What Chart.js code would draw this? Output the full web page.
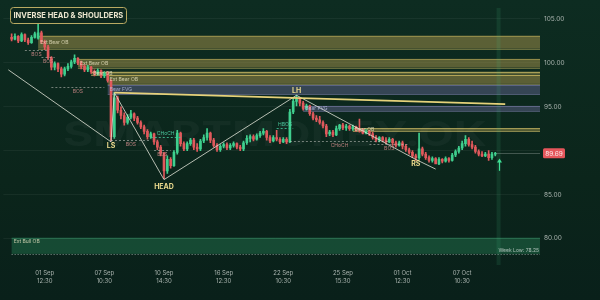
<!DOCTYPE html>
<html>
<head>
<meta charset="utf-8">
<script src="https://cdn.jsdelivr.net/npm/chart.js@4.4.0/dist/chart.umd.min.js"></script>
<style>
  html, body { margin: 0; padding: 0; }
  body { width: 600px; height: 300px; overflow: hidden;
         background: linear-gradient(180deg, #0d2c21 0%, #0b251b 60%, #09201a 100%); }
  canvas { display: block; }
</style>
</head>
<body>
<canvas id="chart" width="600" height="300"></canvas>
<script>
//====================================
// DATA
// candle slots: 0..148 hold candles, 149..161 are empty room on the right
const slotCount = 162;

const opens = [
  null, null, 102.9, 102.7, 103.0, 102.5, 103.2, 102.6, 102.3, 102.9,
  102.8, 103.4, 102.4, 101.8, 100.6, 99.5, 99.9, 99.3, 98.7, 99.3,
  99.6, 100.1, 100.5, 100.0, 99.6, 99.2, 99.5, 99.0, 98.8, 99.1,
  98.5, 98.8, 98.0, 91.6, 96.0, 94.6, 94.0, 93.2, 93.8, 94.2,
  93.7, 93.2, 92.7, 92.2, 91.6, 91.9, 91.0, 90.4, 89.7, 87.7,
  89.0, 88.3, 89.8, 92.0, 90.8, 90.2, 90.8, 91.2, 90.4, 90.2,
  91.1, 91.5, 92.0, 91.2, 90.6, 90.1, 90.5, 90.7, 90.3, 90.6,
  90.8, 90.4, 90.2, 90.9, 91.4, 91.6, 91.3, 91.7, 92.0, 92.2,
  91.5, 91.1, 91.5, 91.3, 91.0, 91.3, 91.0, 94.4, 95.6, 95.9,
  95.4, 94.8, 95.1, 94.2, 93.7, 93.5, 93.2, 92.8, 91.9, 92.1,
  91.8, 92.5, 92.9, 92.6, 92.8, 92.5, 92.7, 92.4, 92.3, 92.0,
  92.2, 91.9, 91.5, 91.2, 91.5, 91.2, 91.0, 91.3, 90.9, 90.6,
  90.9, 90.5, 90.1, 89.8, 89.4, 89.2, 90.2, 89.6, 89.2, 88.9,
  89.1, 88.5, 89.0, 88.8, 89.1, 88.9, 89.5, 89.9, 90.3, 90.8,
  91.3, 90.7, 90.4, 89.9, 89.6, 89.4, 89.6, 89.2, 89.6
];
const highs = [
  null, null, 103.3, 103.3, 103.1, 103.4, 103.3, 102.8, 103.1, 103.5,
  104.4, 103.6, 102.6, 102.0, 100.7, 100.1, 100.0, 99.5, 99.5, 99.9,
  100.3, 100.9, 100.6, 100.2, 99.8, 99.7, 99.6, 99.2, 99.3, 99.2,
  99.0, 99.0, 98.1, 96.6, 96.2, 95.0, 94.3, 94.1, 94.6, 94.3,
  93.9, 93.4, 92.9, 92.4, 92.1, 92.0, 91.2, 90.6, 89.8, 89.4,
  89.2, 90.0, 92.3, 92.1, 91.0, 91.0, 91.4, 91.4, 90.8, 91.3,
  91.8, 92.5, 92.1, 91.4, 90.8, 90.7, 90.9, 90.9, 90.8, 91.0,
  90.9, 90.6, 91.1, 91.7, 91.8, 91.8, 91.9, 92.2, 92.5, 92.3,
  91.7, 91.7, 92.3, 91.5, 91.5, 91.5, 94.7, 96.0, 96.3, 96.0,
  95.6, 95.3, 95.2, 94.4, 94.0, 93.9, 93.4, 93.0, 92.3, 92.3,
  92.8, 93.0, 93.1, 93.0, 92.9, 92.9, 92.8, 93.6, 92.5, 92.4,
  92.3, 92.1, 91.7, 91.6, 91.6, 91.5, 91.5, 91.4, 91.1, 91.1,
  91.1, 90.7, 90.3, 90.0, 89.6, 92.0, 90.4, 89.8, 89.4, 89.3,
  89.2, 89.2, 89.1, 89.3, 89.2, 89.7, 90.1, 90.5, 91.1, 91.7,
  91.5, 91.1, 90.6, 90.1, 89.9, 89.8, 90.0, 89.8, 89.8
];
const lows = [
  null, null, 102.5, 102.6, 102.3, 102.4, 102.4, 102.1, 102.2, 102.8,
  102.7, 102.2, 101.5, 100.4, 99.2, 99.2, 99.0, 98.4, 98.5, 99.1,
  99.4, 99.9, 99.8, 99.3, 99.0, 99.0, 98.8, 98.5, 98.6, 98.3,
  98.3, 97.8, 91.1, 91.4, 94.3, 93.6, 92.9, 93.0, 93.6, 93.4,
  93.0, 92.5, 91.9, 91.3, 91.4, 90.7, 90.1, 89.4, 86.8, 87.4,
  88.0, 88.2, 89.6, 90.5, 90.0, 90.0, 90.6, 90.1, 89.9, 90.0,
  90.9, 91.2, 90.9, 90.4, 89.9, 89.9, 90.3, 90.1, 90.1, 90.4,
  90.2, 90.0, 90.0, 90.7, 91.0, 91.1, 91.2, 91.5, 91.8, 91.2,
  90.9, 91.0, 91.1, 90.8, 90.9, 90.8, 90.9, 94.2, 95.1, 95.1,
  94.6, 94.6, 94.0, 93.5, 93.3, 93.0, 92.6, 91.6, 91.7, 91.6,
  91.7, 92.3, 92.4, 92.3, 92.3, 92.3, 92.2, 92.1, 91.9, 91.9,
  91.7, 91.3, 91.0, 91.0, 91.0, 90.8, 90.9, 90.6, 90.4, 90.5,
  90.2, 89.9, 89.6, 89.2, 88.9, 89.0, 89.4, 89.0, 88.7, 88.7,
  88.6, 88.4, 88.6, 88.7, 88.7, 88.8, 89.3, 89.7, 90.1, 90.5,
  90.5, 90.2, 89.7, 89.4, 89.3, 89.3, 88.9, 89.0, 89.4
];
const closes = [
  null, null, 102.7, 103.0, 102.5, 103.2, 102.6, 102.3, 102.9, 103.3,
  103.4, 102.4, 101.8, 100.6, 99.5, 99.9, 99.3, 98.7, 99.3, 99.6,
  100.1, 100.5, 100.0, 99.6, 99.2, 99.5, 99.0, 98.8, 99.1, 98.5,
  98.8, 98.0, 91.6, 96.0, 94.6, 94.0, 93.2, 93.8, 94.2, 93.7,
  93.2, 92.7, 92.2, 91.6, 91.9, 91.0, 90.4, 89.7, 87.7, 89.0,
  88.3, 89.8, 92.0, 90.8, 90.2, 90.8, 91.2, 90.4, 90.2, 91.1,
  91.5, 92.0, 91.2, 90.6, 90.1, 90.5, 90.7, 90.3, 90.6, 90.8,
  90.4, 90.2, 90.9, 91.4, 91.6, 91.3, 91.7, 92.0, 92.2, 91.5,
  91.1, 91.5, 91.3, 91.0, 91.3, 91.0, 94.4, 95.6, 95.9, 95.4,
  94.8, 95.1, 94.2, 93.7, 93.5, 93.2, 92.8, 91.9, 92.1, 91.8,
  92.5, 92.9, 92.6, 92.8, 92.5, 92.7, 92.4, 92.3, 92.0, 92.2,
  91.9, 91.5, 91.2, 91.5, 91.2, 91.0, 91.3, 90.9, 90.6, 90.9,
  90.5, 90.1, 89.8, 89.4, 89.2, 90.2, 89.6, 89.2, 88.9, 89.1,
  88.5, 89.0, 88.8, 89.1, 88.9, 89.5, 89.9, 90.3, 90.8, 91.3,
  90.7, 90.4, 89.9, 89.6, 89.4, 89.6, 89.2, 89.6, 89.69
];

// x axis tick labels (slot index, date, time)
const tickSlots = [12, 30, 48, 66, 84, 102, 120, 138];
const tickDates = ['01 Sep', '07 Sep', '10 Sep', '16 Sep', '22 Sep', '25 Sep', '01 Oct', '07 Oct'];
const tickTimes = ['12:30', '10:30', '14:30', '12:30', '10:30', '15:30', '12:30', '10:30'];
const priceTicks = [80, 85, 90, 95, 100, 105];

// pattern swing points (slot, price, name)
const swingSlots = [1, 32, 33, 48, 88, 124, 130];
const swingPrices = [99.2, 91.0, 96.6, 86.7, 96.3, 89.0, 87.9];
const patternNames = ['', 'LS', '', 'HEAD', 'LH', 'RS', ''];

// neckline (slot, price)
const neckSlots = [33, 151];
const neckPrices = [96.6, 95.3];

// order blocks / gaps: start slot, top, bottom, kind, text
const zoneStarts = [10, 22, 26, 31, 31, 90, 105, 2];
const zoneTops = [103.1, 100.45, 99.0, 98.6, 97.5, 95.1, 92.55, 80.1];
const zoneBottoms = [101.6, 99.45, 98.65, 97.6, 96.4, 94.5, 92.25, 78.25];
const zoneKinds = ['ob', 'ob', 'obLight', 'ob', 'fvg', 'fvg', 'obLight', 'bull'];
const zoneTexts = ['Ext Bear OB', 'Ext Bear OB', 'Bear OB', 'Ext Bear OB', 'Bear FVG', 'Bear FVG', 'Bear OB', 'Ext Bull OB'];

// structure breaks: from slot, to slot, price, text, kind
const breakFrom = [6, 11, 14, 32, 44, 45, 82, 86, 110];
const breakTo = [13, 15, 30, 44, 53, 50, 87, 116, 122];
const breakPrices = [101.5, 100.7, 97.2, 91.2, 91.6, 90.1, 92.6, 91.1, 90.8];
const breakTexts = ['BOS', 'BOS', 'BOS', 'BOS', 'CHoCH', 'BOS', 'HBOS', 'CHoCH', 'BOS'];
const breakKinds = ['bear', 'bear', 'bear', 'bear', 'bull', 'bear', 'bull', 'bear', 'bear'];

const lastPrice = 89.69;
const weekLow = 78.25;
const signalSlot = 149;

//====================================
// Colours
const upColor = '#3fcf8e';
const downColor = '#e0595c';
const zoneFill = {ob: 'rgba(170,150,75,0.5)', obLight: 'rgba(190,170,85,0.45)',
                  fvg: 'rgba(105,105,150,0.45)', bull: 'rgba(45,150,100,0.35)'};
const zoneEdge = {ob: 'rgba(210,190,100,0.45)', obLight: 'rgba(220,200,110,0.6)',
                  fvg: 'rgba(140,140,190,0.45)', bull: 'rgba(70,170,120,0.3)'};
const breakColor = {bear: 'rgba(200,200,195,0.55)', bull: 'rgba(70,205,160,0.8)'};
const breakText = {bear: 'rgba(215,140,140,0.85)', bull: 'rgba(80,215,170,0.9)'};

//====================================
// Build candle parts from the arrays
const slots = Array.from({length: slotCount}, (_, i) => i);
const wickData = slots.map(i => lows[i] == null ? null : [lows[i], highs[i]]);
const bodyData = slots.map(i => opens[i] == null ? null : [opens[i], closes[i]]);
const candleColors = slots.map(i => closes[i] >= opens[i] ? upColor : downColor);

const swingData = slots.map(i => {
  const k = swingSlots.indexOf(i);
  return k < 0 ? null : swingPrices[k];
});
const neckData = slots.map(i => {
  const k = neckSlots.indexOf(i);
  return k < 0 ? null : neckPrices[k];
});

//====================================
// Drawing helper plugin for zones, labels and overlays
const overlay = {
  id: 'overlay',
  beforeDatasetsDraw(chart) {
    const {ctx, chartArea: a, scales: {x, y}} = chart;
    ctx.save();

    // faint watermark
    ctx.font = 'bold 34px Inter';
    ctx.fillStyle = 'rgba(255,255,255,0.035)';
    ctx.textBaseline = 'middle';
    const wm = 'SMARTMONEY.OK';
    const w = ctx.measureText(wm).width;
    ctx.save();
    ctx.translate(63, 136);
    ctx.scale(424 / w, 1);
    ctx.fillText(wm, 0, 0);
    ctx.restore();

    // zones
    ctx.beginPath();
    ctx.rect(a.left, a.top, a.right - a.left, a.bottom - a.top);
    ctx.clip();
    zoneStarts.forEach((s, k) => {
      const x0 = x.getPixelForValue(s);
      const y0 = y.getPixelForValue(zoneTops[k]);
      const y1 = y.getPixelForValue(zoneBottoms[k]);
      const kind = zoneKinds[k];
      ctx.fillStyle = zoneFill[kind];
      ctx.fillRect(x0, y0, a.right - x0, y1 - y0);
      ctx.strokeStyle = zoneEdge[kind];
      ctx.lineWidth = 1;
      ctx.setLineDash([]);
      ctx.beginPath();
      ctx.moveTo(x0, Math.round(y0) + 0.5); ctx.lineTo(a.right, Math.round(y0) + 0.5);
      if (kind === 'bull') {
        ctx.stroke();
        ctx.beginPath();
        ctx.setLineDash([1, 2]);
        ctx.strokeStyle = 'rgba(220,230,225,0.6)';
      }
      ctx.moveTo(x0, Math.round(y1) + 0.5); ctx.lineTo(a.right, Math.round(y1) + 0.5);
      ctx.stroke();
    });

    // vertical highlight on the last bar
    const sx = x.getPixelForValue(signalSlot);
    ctx.fillStyle = 'rgba(70,190,130,0.13)';
    ctx.fillRect(sx - 2, a.top, 4, a.bottom - a.top);

    // last price line
    const py = Math.round(y.getPixelForValue(lastPrice)) + 0.5;
    ctx.setLineDash([]);
    ctx.strokeStyle = 'rgba(170,180,175,0.35)';
    ctx.beginPath();
    ctx.moveTo(x.getPixelForValue(148), py); ctx.lineTo(a.right, py);
    ctx.stroke();
    ctx.restore();
  },
  afterDatasetsDraw(chart) {
    const {ctx, chartArea: a, scales: {x, y}} = chart;
    ctx.save();

    // zone texts
    ctx.font = '5px Inter';
    ctx.textBaseline = 'middle';
    ctx.textAlign = 'left';
    zoneStarts.forEach((s, k) => {
      const x0 = x.getPixelForValue(s);
      const y0 = y.getPixelForValue(zoneTops[k]);
      const y1 = y.getPixelForValue(zoneBottoms[k]);
      ctx.fillStyle = zoneKinds[k] === 'fvg' ? 'rgba(190,195,230,0.8)' : 'rgba(235,230,195,0.8)';
      const ty = zoneKinds[k] === 'bull' ? y0 + 4 : (y0 + y1) / 2;
      ctx.fillText(zoneTexts[k], x0 + 2, ty);
    });
    ctx.textAlign = 'right';
    ctx.fillStyle = 'rgba(215,225,220,0.75)';
    ctx.fillText('Week Low: ' + weekLow.toFixed(2), a.right - 1, y.getPixelForValue(weekLow) - 3);

    // structure breaks
    breakFrom.forEach((f, k) => {
      const x0 = x.getPixelForValue(f);
      const x1 = x.getPixelForValue(breakTo[k]);
      const by = Math.round(y.getPixelForValue(breakPrices[k])) + 0.5;
      ctx.strokeStyle = breakColor[breakKinds[k]];
      ctx.setLineDash([2, 2]);
      ctx.lineWidth = 1;
      ctx.beginPath();
      ctx.moveTo(x0, by); ctx.lineTo(x1, by);
      ctx.stroke();
      ctx.fillStyle = breakText[breakKinds[k]];
      ctx.textAlign = 'center';
      ctx.fillText(breakTexts[k], (x0 + x1) / 2, breakKinds[k] === 'bull' ? by - 4 : by + 4);
    });
    ctx.setLineDash([]);

    // pattern names
    ctx.font = 'bold 7px Inter';
    ctx.fillStyle = '#e9d98c';
    ctx.textAlign = 'center';
    patternNames.forEach((n, k) => {
      if (!n) return;
      const px = x.getPixelForValue(swingSlots[k]);
      const py = y.getPixelForValue(swingPrices[k]);
      const up = n === 'LH';
      ctx.fillText(n, px, up ? py - 4 : py + (n === 'HEAD' ? 7 : 4));
    });

    // signal arrow
    const ax = Math.round(x.getPixelForValue(signalSlot)) + 0.5;
    const ay0 = y.getPixelForValue(87.7);
    const ay1 = y.getPixelForValue(89.1);
    ctx.strokeStyle = '#3fe095';
    ctx.fillStyle = '#3fe095';
    ctx.lineWidth = 1.2;
    ctx.beginPath();
    ctx.moveTo(ax, ay0); ctx.lineTo(ax, ay1 + 3);
    ctx.stroke();
    ctx.beginPath();
    ctx.moveTo(ax, ay1); ctx.lineTo(ax - 2.5, ay1 + 4); ctx.lineTo(ax + 2.5, ay1 + 4);
    ctx.closePath();
    ctx.fill();

    // price tag
    const ty = y.getPixelForValue(lastPrice);
    ctx.fillStyle = '#e5565b';
    ctx.beginPath();
    ctx.roundRect(a.right + 3, ty - 5, 22, 10, 1.5);
    ctx.fill();
    ctx.fillStyle = '#fbe9e9';
    ctx.font = '6.5px Inter';
    ctx.textAlign = 'center';
    ctx.fillText(lastPrice.toFixed(2), a.right + 14, ty + 0.5);

    // title box
    ctx.strokeStyle = '#b9aa62';
    ctx.fillStyle = 'rgba(15,40,30,0.7)';
    ctx.lineWidth = 1;
    ctx.beginPath();
    ctx.roundRect(10.5, 7.5, 116, 16, 3);
    ctx.fill();
    ctx.stroke();
    ctx.fillStyle = '#ece6cf';
    ctx.font = 'bold 7.5px Inter';
    ctx.textAlign = 'left';
    ctx.fillText('INVERSE HEAD & SHOULDERS', 13.5, 15.8);
    ctx.restore();
  }
};

//====================================
// Chart
const config = {
  type: 'bar',
  data: {
    labels: slots,
    datasets: [
      {type: 'line', data: neckData, borderColor: '#e6d27a', borderWidth: 1.8,
       pointRadius: 0, spanGaps: true, order: 0},
      {type: 'line', data: swingData, borderColor: 'rgba(225,228,215,0.8)', borderWidth: 1,
       pointRadius: 0, spanGaps: true, order: 1,
       segment: {borderDash: c => c.p0DataIndex === swingSlots[5] ? [2, 2] : undefined}},
      {data: wickData, backgroundColor: candleColors, barThickness: 1, grouped: false, order: 3},
      {data: bodyData, backgroundColor: candleColors, barThickness: 2, grouped: false, order: 2}
    ]
  },
  options: {
    responsive: false,
    animation: false,
    layout: {padding: 0},
    plugins: {legend: {display: false}, tooltip: {enabled: false}},
    scales: {
      x: {
        grid: {display: false, drawTicks: false},
        border: {display: false},
        ticks: {
          autoSkip: false, maxRotation: 0, padding: 5,
          color: '#a9b3ae', font: {family: 'Inter', size: 6},
          callback: (v, i) => {
            const k = tickSlots.indexOf(i);
            return k < 0 ? '' : [tickDates[k], tickTimes[k]];
          }
        },
        afterFit: s => { s.height = 35; }
      },
      y: {
        position: 'right',
        min: 76.98, max: 106.25,
        grid: {color: 'rgba(255,255,255,0.05)', drawTicks: false},
        border: {display: false},
        ticks: {
          padding: 4, color: '#a9b3ae', font: {family: 'Inter', size: 6.5},
          callback: v => v === 90 ? '' : v.toFixed(2)
        },
        afterBuildTicks: s => { s.ticks = priceTicks.map(v => ({value: v})); },
        afterFit: s => { s.width = 60; }
      }
    }
  },
  plugins: [overlay]
};

new Chart(document.getElementById('chart'), config);
</script>
</body>
</html>
